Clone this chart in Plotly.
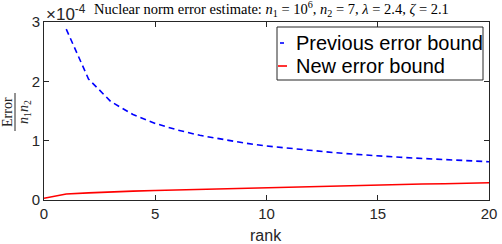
import plotly.graph_objects as go

# Data (values in units of 1e-4)
rank_prev = list(range(1, 21))
prev_bound = [2.88, 2.04, 1.66, 1.44, 1.29, 1.18, 1.09, 1.02, 0.96, 0.91,
              0.87, 0.83, 0.80, 0.77, 0.74, 0.72, 0.70, 0.68, 0.66, 0.645]
rank_new = list(range(0, 21))
new_bound = [0.03, 0.10, 0.12, 0.14, 0.15, 0.16, 0.17, 0.18, 0.19, 0.20, 0.21,
             0.22, 0.23, 0.235, 0.24, 0.25, 0.26, 0.27, 0.275, 0.285, 0.29]
x_ticks = [0, 5, 10, 15, 20]
y_ticks = [0, 1, 2, 3]
legend_labels = ["Previous error bound", "New error bound"]

W, H = 502, 244
L, R, T, B = 44, 13, 22, 44
pw, ph = W - L - R, H - T - B


def px(xp):
    return (xp - L) / pw


def py(yp):
    return (H - B - yp) / ph


axcol = "#262626"
sans = "Liberation Sans, Arial, Helvetica, sans-serif"
serif = "Liberation Serif, Times New Roman, serif"

fig = go.Figure()
fig.add_trace(go.Scatter(x=rank_prev, y=prev_bound, mode="lines",
                         line=dict(color="#0000ff", width=1.6, dash="6px,4px"),
                         name=legend_labels[0], showlegend=False))
fig.add_trace(go.Scatter(x=rank_new, y=new_bound, mode="lines",
                         line=dict(color="#ff0000", width=1.6),
                         name=legend_labels[1], showlegend=False))

axis_common = dict(showline=True, mirror="ticks", ticks="inside", ticklen=5,
                   tickwidth=1, linecolor=axcol, linewidth=1, tickcolor=axcol,
                   showgrid=False, zeroline=False, automargin=False,
                   tickfont=dict(family=sans, size=15, color=axcol))
fig.update_xaxes(range=[0, 20], tickvals=x_ticks, **axis_common)
fig.update_yaxes(range=[0, 3], tickvals=y_ticks, **axis_common)

annotations = [
    dict(text="rank", x=px(266), y=py(235), xref="paper", yref="paper",
         xanchor="center", yanchor="middle", showarrow=False,
         font=dict(family=sans, size=16, color=axcol)),
    dict(text="×10<sup>-4</sup>", x=px(44), y=py(13), xref="paper", yref="paper",
         xanchor="left", yanchor="middle", showarrow=False,
         font=dict(family=sans, size=17, color=axcol)),
    dict(text="Nuclear norm error estimate: <i>n</i><sub>1</sub> = 10<sup>6</sup>, "
              "<i>n</i><sub>2</sub> = 7, <i>λ</i> = 2.4, <i>ζ</i> = 2.1",
         x=px(92), y=py(9), xref="paper", yref="paper", xanchor="left",
         yanchor="middle", showarrow=False,
         font=dict(family=serif, size=14.5, color="#000000")),
    dict(text="Error", x=px(7), y=py(112), xref="paper", yref="paper",
         xanchor="center", yanchor="middle", textangle=-90, showarrow=False,
         font=dict(family=serif, size=14, color=axcol)),
    dict(text="<i>n</i><sub>1</sub><i>n</i><sub>2</sub>", x=px(24), y=py(112),
         xref="paper", yref="paper", xanchor="center", yanchor="middle",
         textangle=-90, showarrow=False,
         font=dict(family=serif, size=14, color=axcol)),
    dict(text=legend_labels[0], x=px(294), y=py(43), xref="paper", yref="paper",
         xanchor="left", yanchor="middle", showarrow=False,
         font=dict(family=sans, size=20, color="#000000")),
    dict(text=legend_labels[1], x=px(294), y=py(66), xref="paper", yref="paper",
         xanchor="left", yanchor="middle", showarrow=False,
         font=dict(family=sans, size=20, color="#000000")),
]

shapes = [
    dict(type="line", xref="paper", yref="paper", x0=px(15), x1=px(15),
         y0=py(131), y1=py(93), line=dict(color=axcol, width=1)),
    dict(type="rect", xref="paper", yref="paper", x0=px(277), x1=px(483),
         y0=py(80), y1=py(27), line=dict(color=axcol, width=1), fillcolor="white",
         layer="above"),
    dict(type="line", xref="paper", yref="paper", x0=px(280), x1=px(284),
         y0=py(43), y1=py(43), line=dict(color="#0000ff", width=1.6)),
    dict(type="line", xref="paper", yref="paper", x0=px(278), x1=px(287),
         y0=py(66), y1=py(66), line=dict(color="#ff0000", width=1.6)),
]

fig.update_layout(width=W, height=H, margin=dict(l=L, r=R, t=T, b=B),
                  plot_bgcolor="white", paper_bgcolor="white",
                  annotations=annotations, shapes=shapes, showlegend=False)

fig.write_html("out.html")
